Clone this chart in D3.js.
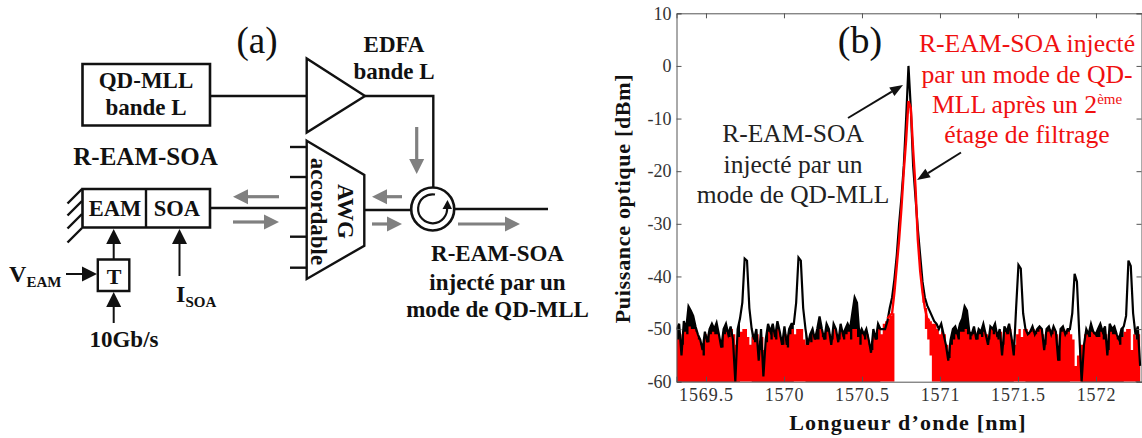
<!DOCTYPE html>
<html>
<head>
<meta charset="utf-8">
<title>R-EAM-SOA</title>
<script src="https://cdn.jsdelivr.net/npm/d3@7"></script>
<style>
  html, body { margin: 0; background: #fff; }
  svg { display: block; }
  text { font-family: "Liberation Serif", serif; }
  .bold { font-weight: bold; fill: #111; }
  .tick text { font-size: 18px; fill: #333; font-family: "Liberation Serif", serif; }
  .x-labels .tick text { letter-spacing: 0.9px; }
</style>
</head>
<body>
<svg id="chart" width="1142" height="438"></svg>
<script>
const WIDTH = 1142;
const HEIGHT = 438;

// Spectrum samples, one every 0.015 nm starting at 1569.313 nm
const startWavelength = 1569.313;
const stepWavelength = 0.015;

const blackPower = [
  -50, -49, -55, -48.5, -50, -45.7, -46.5, -47.5, -49.5, -51, -52, -54, -50.5, -52.5, -50, -49, -50, -48.8, -51, -53.5,
  -50, -49, -51, -49.5, -52, -60, -50, -48, -45, -36.6, -37, -46, -50, -52, -50, -56, -50, -59, -52, -49,
  -50.5, -49, -51.5, -48.5, -50.5, -53, -49.5, -53, -50, -49, -49, -45, -36.4, -37, -46, -50, -53, -51, -50, -52,
  -50, -47.6, -50, -52, -49, -50, -53, -49, -50, -52.5, -49, -51, -50, -49, -50, -47, -44, -45, -51, -50,
  -51, -50, -52, -54.5, -50, -52, -49, -50, -50, -50, -48.5, -46, -44, -40.5, -36, -30, -25, -19, -10, 0,
  -8, -19, -25, -31, -36, -41, -44, -45.5, -46.5, -47.5, -48.5, -49, -50, -49, -51, -53, -56, -52, -50, -49.5,
  -51, -49, -48, -45.7, -46.5, -50.5, -51, -49.5, -52, -50, -50.5, -49, -51, -53, -49.5, -50, -49, -51.5, -50, -55,
  -49.5, -50.5, -49, -51.5, -55, -46, -37.8, -38.5, -47, -50, -51, -50.5, -49.5, -51, -50, -49.5, -50, -54, -50, -49.5,
  -51, -49.5, -50.5, -56, -50, -49.5, -51, -50, -50, -47, -39.5, -41, -51, -60, -53, -50, -51, -49, -50.5, -51,
  -50, -49, -50.5, -49.5, -55, -49, -50, -49.5, -51, -52, -50, -49.5, -47.5, -37, -38, -47, -51, -49.5, -57
];

const redPower = [
  -52, -51, -53, -50.5, -51, -49.5, -50, -50, -50.5, -52, -53, -55, -51, -52.5, -51, -50.5, -51, -51, -52, -53.5,
  -51, -50.5, -51.5, -50, -51, -53, -51.5, -50.5, -50, -50, -51.5, -53, -51.5, -52.5, -51, -54, -51.5, -54, -52.5, -50.5,
  -52, -50.5, -52, -50, -51.5, -53, -51, -53.5, -51, -50, -51, -50, -50, -50, -52, -53, -52, -52.5, -51, -52,
  -52, -50, -51.5, -52, -50.5, -51, -52, -50, -51, -52, -50.5, -52, -51, -50.5, -52, -50, -50, -51.5, -53, -51,
  -52, -51, -53, -54, -51, -52, -50, -51, -49, -48.5, -48, -47.5, -47, -43, -38, -33, -27, -20, -14, -6.7,
  -8, -16, -23, -33, -39, -43, -46, -48, -48.5, -49, -49, -50, -51, -50.5, -51, -53, -55.5, -53, -52, -51,
  -52, -50.5, -50.5, -50, -51, -52, -51, -50.5, -52, -51, -51.5, -50.5, -51, -52, -50, -51, -50.5, -52, -50.5, -53,
  -50.5, -51, -50, -52, -53, -51, -50, -51.5, -50, -50, -51, -50.5, -50, -51, -50.5, -50, -51, -53, -50.5, -50,
  -51, -50, -51, -56, -50.5, -50, -51, -50.5, -51, -52, -57, -55, -53, -53, -51, -51, -51.5, -50.5, -51, -51.5,
  -51.5, -50.5, -52, -51, -54, -50.5, -51, -51, -52, -53, -51.5, -50.5, -50, -50, -54, -51, -52, -51, -54
];

// Lower edge of the red trace around the main peak (samples 93 to 109); elsewhere it fills down to -60
const peakFloorStart = 93;
const peakFloor = [-43, -38, -33, -27, -20, -14, -6.7, -8, -16, -23, -33, -39, -45, -50, -52, -55, -60];

// Sample ranges where the black trace is a plain line and does not fill the noise band
const blackLineOnly = [[28, 31], [51, 54], [88, 112], [145, 148], [169, 172], [192, 195]];

const xTicks = [1569.5, 1570, 1570.5, 1571, 1571.5, 1572];
const yTicks = [10, 0, -10, -20, -30, -40, -50, -60];

const blackNote = ['R-EAM-SOA', 'injecté par un', 'mode de QD-MLL'];
const redNote = ['R-EAM-SOA injecté', 'par un mode de QD-', 'MLL après un 2', 'étage de filtrage'];
const injectedNote = ['R-EAM-SOA', 'injecté par un', 'mode de QD-MLL'];

const svg = d3.select('#chart').attr('viewBox', `0 0 ${WIDTH} ${HEIGHT}`);

function drawArrow(layer, x1, y1, x2, y2, options = {}) {
  const { color = '#111', width = 2, headLength = 15, headWidth = 15 } = options;
  const angle = Math.atan2(y2 - y1, x2 - x1);
  const cos = Math.cos(angle);
  const sin = Math.sin(angle);
  const baseX = x2 - headLength * cos;
  const baseY = y2 - headLength * sin;
  layer.append('line')
    .attr('x1', x1).attr('y1', y1).attr('x2', baseX).attr('y2', baseY)
    .attr('stroke', color).attr('stroke-width', width);
  layer.append('polygon')
    .attr('points', [
      [x2, y2],
      [baseX - (headWidth / 2) * sin, baseY + (headWidth / 2) * cos],
      [baseX + (headWidth / 2) * sin, baseY - (headWidth / 2) * cos],
    ].join(' '))
    .attr('fill', color);
}

function drawLabel(layer, x, y, content, size, anchor = 'middle') {
  return layer.append('text')
    .attr('class', 'bold')
    .attr('x', x).attr('y', y)
    .attr('text-anchor', anchor)
    .attr('font-size', size)
    .text(content);
}

function drawPath(layer, d, width = 2.4) {
  return layer.append('path')
    .attr('d', d).attr('fill', 'none')
    .attr('stroke', '#111').attr('stroke-width', width);
}

/* ---------- panel (a): setup diagram ---------- */
const diagram = svg.append('g');
const GREY = '#808080';

diagram.append('text').attr('x', 257).attr('y', 53).attr('text-anchor', 'middle')
  .attr('font-size', 37).attr('fill', '#111').text('(a)');

// QD-MLL source and fibre to the EDFA
drawPath(diagram, 'M82.5 64H210V125.5H82.5Z', 2.6);
drawLabel(diagram, 146, 88, 'QD-MLL', 23);
drawLabel(diagram, 146, 115, 'bande L', 23);
drawPath(diagram, 'M211 96H306');

// EDFA
drawPath(diagram, 'M306.7 58.5V132.5L365 96Z');
drawLabel(diagram, 394, 52, 'EDFA', 23);
drawLabel(diagram, 394, 79, 'bande L', 23);
drawPath(diagram, 'M365 96H433.3V187');

// Circulator
diagram.append('circle').attr('cx', 432.7).attr('cy', 209).attr('r', 21.5)
  .attr('fill', 'none').attr('stroke', '#111').attr('stroke-width', 2.6);
drawPath(diagram, 'M435 194.5A14.5 14.5 0 1 0 447 207', 2.2);
diagram.append('polygon').attr('points', '447.5,200 452,209 442.5,209').attr('fill', '#111');
drawPath(diagram, 'M454 209H548');
drawPath(diagram, 'M364 210H411');

// Tunable AWG
drawPath(diagram, 'M306.7 140.7L364.3 175V245.7L306.7 279Z');
[147, 177, 236.7, 267.7].forEach((y) => drawPath(diagram, `M290 ${y}H306.7`));
drawPath(diagram, 'M210 208H306.7');
diagram.append('text').attr('class', 'bold').attr('font-size', 23).attr('text-anchor', 'middle')
  .attr('transform', 'translate(311,211.5) rotate(90)').text('accordable');
diagram.append('text').attr('class', 'bold').attr('font-size', 23).attr('text-anchor', 'middle')
  .attr('transform', 'translate(338,211.5) rotate(90)').text('AWG');

// R-EAM-SOA
drawLabel(diagram, 145.5, 165, 'R-EAM-SOA', 25);
drawPath(diagram, 'M82.5 189H210V227.5H82.5Z', 2.6);
drawPath(diagram, 'M146 189V227.5');
drawLabel(diagram, 115, 216, 'EAM', 22.5);
drawLabel(diagram, 177, 216, 'SOA', 22.5);
[189, 201, 214, 228].forEach((y) => drawPath(diagram, `M82 ${y}L67.5 ${y + 14.5}`));

// Driver
drawPath(diagram, 'M97.8 259.5H129.3V291H97.8Z', 2.4);
drawLabel(diagram, 114, 284, 'T', 22);
drawArrow(diagram, 113.7, 259, 113.7, 229);
drawArrow(diagram, 66, 274, 97, 274);
drawArrow(diagram, 113.7, 323, 113.7, 292);
drawArrow(diagram, 179.5, 276, 179.5, 229);
drawLabel(diagram, 9, 282, 'V', 24, 'start');
drawLabel(diagram, 26.5, 287, 'EAM', 15, 'start');
drawLabel(diagram, 176, 302, 'I', 24, 'start');
drawLabel(diagram, 185.5, 307, 'SOA', 15, 'start');
drawLabel(diagram, 124, 347, '10Gb/s', 23);

// Grey direction arrows
const greyStyle = { color: GREY, width: 3.2, headLength: 15, headWidth: 15 };
drawArrow(diagram, 279, 196.7, 233, 196.7, greyStyle);
drawArrow(diagram, 233, 222, 279, 222, greyStyle);
drawArrow(diagram, 416.7, 127, 416.7, 174, greyStyle);
drawArrow(diagram, 402, 196.7, 372, 196.7, greyStyle);
drawArrow(diagram, 372, 224, 402, 224, greyStyle);
drawArrow(diagram, 458, 224, 520, 224, greyStyle);

injectedNote.forEach((line, i) => {
  drawLabel(diagram, 497.5, [261, 289.5, 317][i], line, 23);
});

/* ---------- panel (b): optical spectrum ---------- */
const plot = { left: 676.5, right: 1142, top: 13.3, bottom: 381.7 };

const x = d3.scaleLinear().domain([1569.311, 1572.295]).range([plot.left, plot.right]);
const y = d3.scaleLinear().domain([-60, 10]).range([plot.bottom, plot.top]);

const wavelengthAt = (i) => startWavelength + i * stepWavelength;
const floorAt = (i) => {
  const offset = i - peakFloorStart;
  return offset >= 0 && offset < peakFloor.length ? peakFloor[offset] : -60;
};

svg.append('clipPath').attr('id', 'plot-clip')
  .append('rect')
  .attr('x', plot.left).attr('y', plot.top)
  .attr('width', plot.right - plot.left).attr('height', plot.bottom - plot.top);

const traces = svg.append('g').attr('clip-path', 'url(#plot-clip)');

// Black noise band, hidden by the red fill except where the red trace dips
const blackBand = d3.area()
  .defined((_, i) => !blackLineOnly.some(([from, to]) => i >= from && i <= to))
  .x((_, i) => x(wavelengthAt(i)))
  .y0(y(-60))
  .y1((value) => y(value));

const redArea = d3.area()
  .x((_, i) => x(wavelengthAt(i)))
  .y0((_, i) => y(floorAt(i)))
  .y1((value) => y(value))
  .curve(d3.curveStepAfter);

const traceLine = d3.line()
  .x((_, i) => x(wavelengthAt(i)))
  .y((value) => y(value));

traces.append('path').attr('d', blackBand(blackPower)).attr('fill', '#000');
traces.append('path').attr('d', redArea(redPower)).attr('fill', '#f00');
traces.append('path').attr('d', traceLine(blackPower))
  .attr('fill', 'none').attr('stroke', '#000').attr('stroke-width', 2.2);

// The red main peak sits over the black one
const redPeakLine = d3.line()
  .x((d) => x(wavelengthAt(d.index)))
  .y((d) => y(d.value));
const redPeak = redPower
  .map((value, index) => ({ value, index }))
  .filter((d) => d.index >= 90 && d.index <= 108);
traces.append('path').attr('d', redPeakLine(redPeak))
  .attr('fill', 'none').attr('stroke', '#f00').attr('stroke-width', 2.4);

// Frame with inward ticks on all four sides
const axisColor = '#555';
const xBottom = d3.axisBottom(x).tickValues(xTicks).tickSize(-5).tickPadding(7).tickFormat(String);
const xTop = d3.axisTop(x).tickValues(xTicks).tickSize(-5).tickFormat('');
const yLeft = d3.axisLeft(y).tickValues(yTicks).tickSize(-5).tickPadding(5).tickFormat(String);
const yRight = d3.axisRight(y).tickValues(yTicks).tickSize(-5).tickFormat('');

const axes = [
  svg.append('g').attr('class', 'x-labels').attr('transform', `translate(0,${plot.bottom})`).call(xBottom),
  svg.append('g').attr('transform', `translate(0,${plot.top})`).call(xTop),
  svg.append('g').attr('transform', `translate(${plot.left},0)`).call(yLeft),
  svg.append('g').attr('transform', `translate(${plot.right - 0.5},0)`).call(yRight),
];
axes.forEach((axis) => {
  axis.selectAll('.domain, .tick line').attr('stroke', axisColor).attr('stroke-width', 1);
  axis.attr('font-family', null).attr('font-size', null);
});

svg.append('text').attr('class', 'bold').attr('x', 908).attr('y', 430)
  .attr('text-anchor', 'middle').attr('font-size', 22).attr('letter-spacing', 1.2)
  .text('Longueur d’onde [nm]');
svg.append('text').attr('class', 'bold')
  .attr('transform', 'translate(630,198.5) rotate(-90)')
  .attr('text-anchor', 'middle').attr('font-size', 22).attr('letter-spacing', 0.7)
  .text('Puissance optique [dBm]');

svg.append('text').attr('x', 860).attr('y', 53).attr('text-anchor', 'middle')
  .attr('font-size', 38).attr('fill', '#111').text('(b)');

blackNote.forEach((line, i) => {
  svg.append('text').attr('x', 793).attr('y', [142, 173, 203][i])
    .attr('text-anchor', 'middle').attr('font-size', 25.5).attr('fill', '#222').text(line);
});

const redBaselines = [52, 83, 113, 143];
redNote.forEach((line, i) => {
  const label = svg.append('text').attr('x', 1027).attr('y', redBaselines[i])
    .attr('text-anchor', 'middle').attr('font-size', 25.7).attr('fill', '#f01010');
  label.append('tspan').text(line);
  if (i === 2) {
    label.append('tspan').attr('font-size', 15).attr('dy', -9).text('ème');
  }
});

const noteArrow = { color: '#111', width: 2, headLength: 13, headWidth: 10 };
drawArrow(svg, 848, 118, 903, 85, noteArrow);
drawArrow(svg, 961, 152.5, 917, 180, noteArrow);
</script>
</body>
</html>
